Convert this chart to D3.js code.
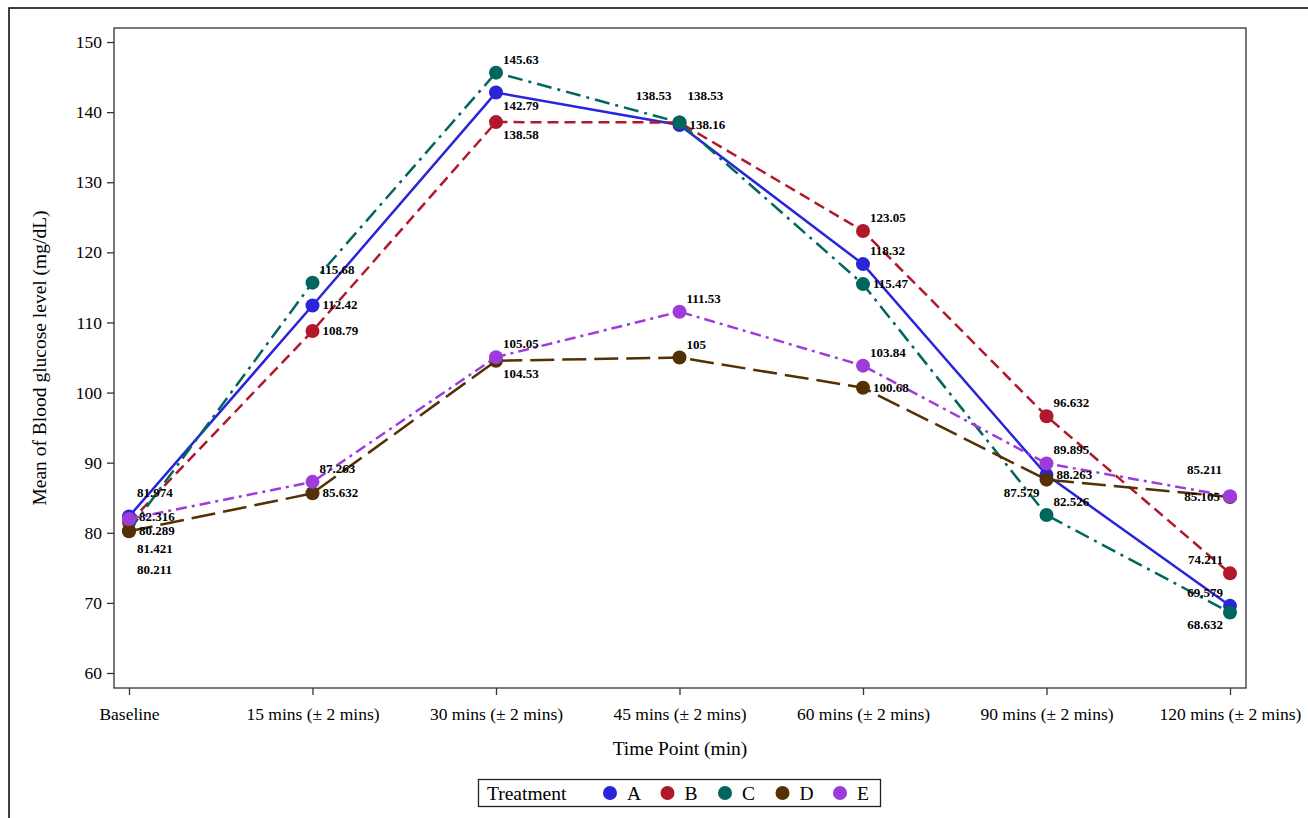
<!DOCTYPE html>
<html>
<head>
<meta charset="utf-8">
<script src="https://cdn.jsdelivr.net/npm/d3@7"></script>
<style>
  body { margin: 0; background: #fff; }
  svg { display: block; font-family: "Liberation Serif", "Times New Roman", serif; }
</style>
</head>
<body>
<svg id="chart" width="1308" height="818"></svg>
<script>
// time points on the x axis
const categories = ["Baseline", "15 mins (\u00b1 2 mins)", "30 mins (\u00b1 2 mins)", "45 mins (\u00b1 2 mins)",
  "60 mins (\u00b1 2 mins)", "90 mins (\u00b1 2 mins)", "120 mins (\u00b1 2 mins)"];
const treatments = ["A", "B", "C", "D", "E"];
// mean glucose per treatment (mg/dL)
const valuesA = [82.316, 112.42, 142.79, 138.16, 118.32, 88.263, 69.579];
const valuesB = [81.421, 108.79, 138.58, 138.53, 123.05, 96.632, 74.211];
const valuesC = [80.289, 115.68, 145.63, 138.53, 115.47, 82.526, 68.632];
const valuesD = [80.211, 85.632, 104.53, 105, 100.68, 87.579, 85.105];
const valuesE = [81.974, 87.263, 105.05, 111.53, 103.84, 89.895, 85.211];
const yTicks = [60, 70, 80, 90, 100, 110, 120, 130, 140, 150];

const colors = ["#2a25d9", "#b2182b", "#01665e", "#543005", "#9d3cdb"];
const dashes = [null, "11,6", "15,6,3,6", "24,8", "11,5,3,5"];
const allValues = [valuesA, valuesB, valuesC, valuesD, valuesE];

const svg = d3.select("#chart");
const plotLeft = 114, plotRight = 1246, plotTop = 28, plotBottom = 688;

// outer frame
svg.append("rect").attr("x", 9).attr("y", 8).attr("width", 1320).attr("height", 830)
  .attr("fill", "none").attr("stroke", "#000").attr("stroke-width", 1.5);

const x = d3.scalePoint().domain(categories).range([129, 1230]);
const y = d3.scaleLinear().domain([57.86, 152]).range([plotBottom, plotTop]);

// plot frame
svg.append("rect").attr("x", plotLeft).attr("y", plotTop)
  .attr("width", plotRight - plotLeft).attr("height", plotBottom - plotTop)
  .attr("fill", "none").attr("stroke", "#333").attr("stroke-width", 1.3);

const yAxis = svg.append("g").attr("transform", `translate(${plotLeft},0)`)
  .call(d3.axisLeft(y).tickValues(yTicks).tickSize(7).tickPadding(5));
yAxis.select(".domain").remove();
yAxis.selectAll("line").attr("stroke", "#333").attr("stroke-width", 1.3);
yAxis.selectAll("text").attr("font-family", "Liberation Serif").attr("font-size", 17.5).attr("fill", "#000");

const xAxis = svg.append("g").attr("transform", `translate(0,${plotBottom})`)
  .call(d3.axisBottom(x).tickSize(7).tickPadding(13));
xAxis.select(".domain").remove();
xAxis.selectAll("line").attr("stroke", "#333").attr("stroke-width", 1.3);
xAxis.selectAll("text").attr("font-family", "Liberation Serif").attr("font-size", 17.5).attr("fill", "#000");

svg.append("text").attr("x", 680).attr("y", 755).attr("text-anchor", "middle")
  .attr("font-size", 19.5).text("Time Point (min)");
svg.append("text").attr("transform", "translate(46,358) rotate(-90)").attr("text-anchor", "middle")
  .attr("font-size", 19.5).text("Mean of Blood glucose level (mg/dL)");

const series = treatments.map((t, i) => ({
  name: t, color: colors[i], dash: dashes[i],
  points: categories.map((c, j) => ({ cat: c, v: allValues[i][j], px: x(c), py: y(allValues[i][j]) }))
}));

const line = d3.line().x(d => d.px).y(d => d.py);
series.forEach(s => {
  const g = svg.append("g");
  g.append("path").attr("d", line(s.points)).attr("fill", "none")
    .attr("stroke", s.color).attr("stroke-width", 2.5).attr("stroke-dasharray", s.dash);
  g.selectAll("circle").data(s.points).enter().append("circle")
    .attr("cx", d => d.px).attr("cy", d => d.py).attr("r", 7).attr("fill", s.color);
});

// data labels, placed series by series with a small collision check
const markerBoxes = [];
const labelBoxes = [];
const linePts = [];
series.forEach(s => {
  s.points.forEach(p => markerBoxes.push({ p, x0: p.px - 9, x1: p.px + 9, y0: p.py - 9, y1: p.py + 9 }));
  for (let k = 0; k < s.points.length - 1; k++) {
    const a = s.points[k], b = s.points[k + 1];
    const n = Math.ceil(Math.hypot(b.px - a.px, b.py - a.py) / 3);
    for (let t = 0; t <= n; t++) linePts.push([a.px + (b.px - a.px) * t / n, a.py + (b.py - a.py) * t / n]);
  }
});
const spots = [
  { dx: 7, dy: -9, anchor: "start" },
  { dx: 10, dy: 4, anchor: "start" },
  { dx: 7, dy: 17, anchor: "start" },
  { dx: -7, dy: -9, anchor: "end" },
  { dx: -7, dy: 17, anchor: "end" },
  { dx: -10, dy: 4, anchor: "end" },
  { dx: 8, dy: -22, anchor: "start" },
  { dx: 8, dy: 30, anchor: "start" },
  { dx: -8, dy: -22, anchor: "end" },
  { dx: -8, dy: 30, anchor: "end" },
  { dx: 8, dy: 43, anchor: "start" },
  { dx: 8, dy: -35, anchor: "start" },
  { dx: 8, dy: 56, anchor: "start" }
];
const hit = (b, o) => b.x0 < o.x1 && b.x1 > o.x0 && b.y0 < o.y1 && b.y1 > o.y0;
const labelLayer = svg.append("g").attr("font-size", 13).attr("font-weight", "bold").attr("fill", "#000");
series.forEach(s => {
  s.points.forEach(p => {
    const txt = labelLayer.append("text").text(d3.format("")(p.v));
    const w = txt.node().getComputedTextLength();
    let best = null, bestCost = Infinity;
    spots.forEach((sp, idx) => {
      const tx = p.px + sp.dx, ty = p.py + sp.dy;
      const b = sp.anchor === "start" ? { x0: tx, x1: tx + w } : { x0: tx - w, x1: tx };
      b.y0 = ty - 10; b.y1 = ty + 3;
      let cost = idx * 2;
      labelBoxes.forEach(o => { if (hit(b, o)) cost += 80; });
      markerBoxes.forEach(o => { if (o.p !== p && hit(b, o)) cost += 20; });
      linePts.forEach(q => { if (q[0] > b.x0 && q[0] < b.x1 && q[1] > b.y0 && q[1] < b.y1) cost += 0.3; });
      if (b.x0 < plotLeft + 2 || b.x1 > plotRight - 2) cost += 200;
      if (cost < bestCost) { bestCost = cost; best = { tx, ty, anchor: sp.anchor, b }; }
    });
    txt.attr("x", best.tx).attr("y", best.ty).attr("text-anchor", best.anchor);
    labelBoxes.push(best.b);
  });
});

// legend
const legend = svg.append("g");
legend.append("rect").attr("x", 478.5).attr("y", 779.5).attr("width", 402).attr("height", 27)
  .attr("fill", "none").attr("stroke", "#222").attr("stroke-width", 1.3);
legend.append("text").attr("x", 487).attr("y", 800).attr("font-size", 19.5).text("Treatment");
const lx = d3.scalePoint().domain(treatments).range([610, 840]);
treatments.forEach((t, i) => {
  legend.append("circle").attr("cx", lx(t)).attr("cy", 793).attr("r", 7).attr("fill", colors[i]);
  legend.append("text").attr("x", lx(t) + 17).attr("y", 800).attr("font-size", 19.5).text(t);
});
</script>
</body>
</html>
